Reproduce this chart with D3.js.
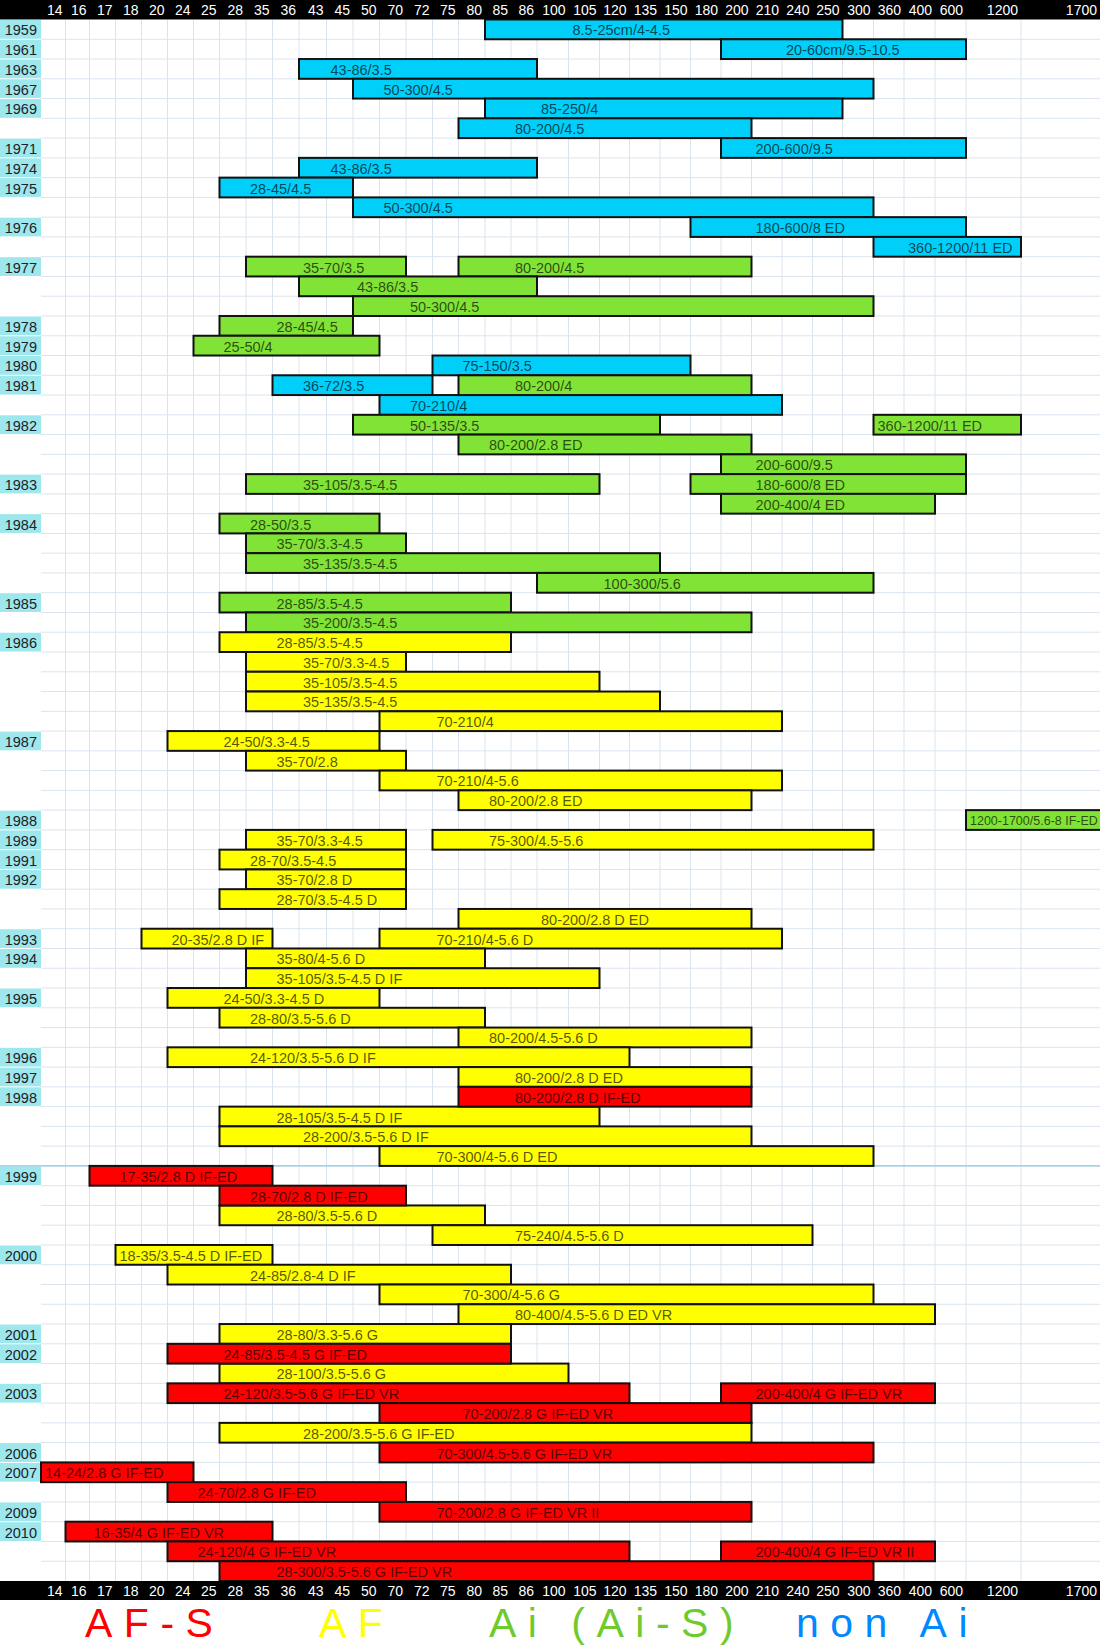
<!DOCTYPE html>
<html>
<head>
<meta charset="utf-8">
<script src="https://cdn.jsdelivr.net/npm/d3@7"></script>
<style>
  html, body { margin: 0; padding: 0; background: #ffffff; }
  svg { display: block; }
</style>
</head>
<body>
<svg id="chart" width="1100" height="1647"></svg>
<script>
// ---------------- DATA ----------------
// focal-length columns (tick labels)
const focalColumns = ["14","16","17","18","20","24","25","28","35","36","43","45","50","70","72","75","80","85","86",
  "100","105","120","135","150","180","200","210","240","250","300","360","400","600","1200","1700"];

// one entry per spreadsheet row ("" = continuation row)
const rowYears = ["1959","1961","1963","1967","1969","","1971","1974","1975","","1976","","1977","","","1978","1979","1980","1981","",
  "1982","","","1983","","1984","","","","1985","","1986","","","","","1987","","","","1988","1989","1991","1992","","",
  "1993","1994","","1995","","","1996","1997","1998","","","","1999","","","","2000","","","","2001","2002","","2003","","",
  "2006","2007","","2009","2010","",""];

// lens bars: [row, from column, to column, label, label column]
const nonAiLenses = [
  [0,"85","250","8.5-25cm/4-4.5","105"],
  [1,"200","600","20-60cm/9.5-10.5","240"],
  [2,"43","86","43-86/3.5","45"],
  [3,"50","300","50-300/4.5","70"],
  [4,"85","250","85-250/4","100"],
  [5,"80","200","80-200/4.5","86"],
  [6,"200","600","200-600/9.5","210"],
  [7,"43","86","43-86/3.5","45"],
  [8,"28","45","28-45/4.5","35"],
  [9,"50","300","50-300/4.5","70"],
  [10,"180","600","180-600/8 ED","210"],
  [11,"360","1200","360-1200/11 ED","400"],
  [17,"75","150","75-150/3.5","80"],
  [18,"36","72","36-72/3.5","43"],
  [19,"70","210","70-210/4","72"]
];
const aiLenses = [
  [12,"35","70","35-70/3.5","43"],
  [12,"80","200","80-200/4.5","86"],
  [13,"43","86","43-86/3.5","50"],
  [14,"50","300","50-300/4.5","72"],
  [15,"28","45","28-45/4.5","36"],
  [16,"25","50","25-50/4","28"],
  [18,"80","200","80-200/4","86"],
  [20,"50","135","50-135/3.5","72"],
  [20,"360","1200","360-1200/11 ED","360"],
  [21,"80","200","80-200/2.8 ED","85"],
  [22,"200","600","200-600/9.5","210"],
  [23,"35","105","35-105/3.5-4.5","43"],
  [23,"180","600","180-600/8 ED","210"],
  [24,"200","400","200-400/4 ED","210"],
  [25,"28","50","28-50/3.5","35"],
  [26,"35","70","35-70/3.3-4.5","36"],
  [27,"35","135","35-135/3.5-4.5","43"],
  [28,"100","300","100-300/5.6","120"],
  [29,"28","85","28-85/3.5-4.5","36"],
  [30,"35","200","35-200/3.5-4.5","43"],
  [40,"1200","1700","1200-1700/5.6-8 IF-ED","1200"]
];
const afLenses = [
  [31,"28","85","28-85/3.5-4.5","36"],
  [32,"35","70","35-70/3.3-4.5","43"],
  [33,"35","105","35-105/3.5-4.5","43"],
  [34,"35","135","35-135/3.5-4.5","43"],
  [35,"70","210","70-210/4","75"],
  [36,"24","50","24-50/3.3-4.5","28"],
  [37,"35","70","35-70/2.8","36"],
  [38,"70","210","70-210/4-5.6","75"],
  [39,"80","200","80-200/2.8 ED","85"],
  [41,"35","70","35-70/3.3-4.5","36"],
  [41,"75","300","75-300/4.5-5.6","85"],
  [42,"28","70","28-70/3.5-4.5","35"],
  [43,"35","70","35-70/2.8 D","36"],
  [44,"28","70","28-70/3.5-4.5 D","36"],
  [45,"80","200","80-200/2.8 D ED","100"],
  [46,"20","35","20-35/2.8 D IF","24"],
  [46,"70","210","70-210/4-5.6 D","75"],
  [47,"35","80","35-80/4-5.6 D","36"],
  [48,"35","105","35-105/3.5-4.5 D IF","36"],
  [49,"24","50","24-50/3.3-4.5 D","28"],
  [50,"28","80","28-80/3.5-5.6 D","35"],
  [51,"80","200","80-200/4.5-5.6 D","85"],
  [52,"24","120","24-120/3.5-5.6 D IF","35"],
  [53,"80","200","80-200/2.8 D ED","86"],
  [55,"28","105","28-105/3.5-4.5 D IF","36"],
  [56,"28","200","28-200/3.5-5.6 D IF","43"],
  [57,"70","300","70-300/4-5.6 D ED","75"],
  [60,"28","80","28-80/3.5-5.6 D","36"],
  [61,"75","240","75-240/4.5-5.6 D","86"],
  [62,"18","35","18-35/3.5-4.5 D IF-ED","18"],
  [63,"24","85","24-85/2.8-4 D IF","35"],
  [64,"70","300","70-300/4-5.6 G","80"],
  [65,"80","400","80-400/4.5-5.6 D ED VR","86"],
  [66,"28","85","28-80/3.3-5.6 G","36"],
  [68,"28","100","28-100/3.5-5.6 G","36"],
  [71,"28","200","28-200/3.5-5.6 G IF-ED","43"]
];
const afsLenses = [
  [54,"80","200","80-200/2.8 D IF-ED","86"],
  [58,"17","35","17-35/2.8 D IF-ED","18"],
  [59,"28","70","28-70/2.8 D IF-ED","35"],
  [67,"24","85","24-85/3.5-4.5 G IF-ED","28"],
  [69,"24","120","24-120/3.5-5.6 G IF-ED VR","28"],
  [69,"200","400","200-400/4 G IF-ED VR","210"],
  [70,"70","200","70-200/2.8 G IF-ED VR","80"],
  [72,"70","300","70-300/4.5-5.6 G IF-ED VR","75"],
  [73,"14","24","14-24/2.8 G IF-ED","14"],
  [74,"24","70","24-70/2.8 G IF-ED","25"],
  [75,"70","200","70-200/2.8 G IF-ED VR II","75"],
  [76,"16","35","16-35/4 G IF-ED VR","17"],
  [77,"24","120","24-120/4 G IF-ED VR","25"],
  [77,"200","400","200-400/4 G IF-ED VR II","210"],
  [78,"28","300","28-300/3.5-5.6 G IF-ED VR","36"]
];

const legendLabels = ["AF-S","AF","Ai (Ai-S)","non Ai"];
const separatorRow = 58; // first AF-S generation row (1999)

// ---------------- LAYOUT / STYLE ----------------
const W = 1100, H = 1647;
const headerH = 19.5, plotBottom = 1581, bandBottom = 1600;
const colBounds = [41, 65.5, 89.5, 115.5, 141.5, 167.5, 193.5, 219.5, 246, 272.5, 299, 326.5, 353, 379.5, 406, 432.5,
  458.5, 485, 511, 537, 568.5, 599.5, 629.5, 660, 690.5, 721, 751.5, 782, 812.5, 842.5, 873.5, 904, 935, 966, 1021, 1101];
const mountColors = {nonAi: "#00CFFA", ai: "#80E335", af: "#FFFF00", afs: "#FF0000"};
const legendColors = ["#FF0000", "#FFFF00", "#6FCB2C", "#0088FF"];
const legendX = [85, 319, 489, 796];
const font = "'Liberation Sans', Arial, sans-serif";

const svg = d3.select("#chart");
const colIndex = new Map(focalColumns.map((c, i) => [c, i]));
const x = d3.scaleLinear().domain(d3.range(colBounds.length)).range(colBounds);
const xStart = c => x(colIndex.get(c));
const xEnd = c => x(colIndex.get(c) + 1);
const y = d3.scaleBand().domain(d3.range(rowYears.length)).range([headerH, plotBottom]);
const bw = y.bandwidth();

svg.append("rect").attr("width", W).attr("height", H).attr("fill", "#ffffff");

// year cells
const yearRows = rowYears.map((t, i) => ({t, i})).filter(d => d.t !== "");
svg.append("g").selectAll("rect").data(yearRows).join("rect")
  .attr("x", 0).attr("y", d => y(d.i) + 0.5).attr("width", colBounds[0]).attr("height", bw - 1)
  .attr("fill", "#9DE7ED");
svg.append("g").selectAll("text").data(yearRows).join("text")
  .attr("x", colBounds[0] - 4).attr("y", d => y(d.i) + bw / 2 + 1)
  .attr("text-anchor", "end").attr("dominant-baseline", "central")
  .attr("font-family", font).attr("font-size", 14.5).attr("fill", "#1d2226")
  .text(d => d.t);

// grid
const grid = svg.append("g").attr("stroke", "#DAE4EF").attr("stroke-width", 1);
grid.selectAll("line.v").data(d3.range(1, colBounds.length)).join("line")
  .attr("x1", i => x(i)).attr("x2", i => x(i)).attr("y1", headerH).attr("y2", plotBottom);
grid.selectAll("line.h").data(d3.range(1, rowYears.length)).join("line")
  .attr("x1", colBounds[0]).attr("x2", W).attr("y1", i => y(i)).attr("y2", i => y(i));

// separator before 1999
svg.append("line").attr("x1", 0).attr("x2", W)
  .attr("y1", y(separatorRow)).attr("y2", y(separatorRow))
  .attr("stroke", "#8EC9E0").attr("stroke-width", 1.2);

// bars
const series = [
  {key: "nonAi", data: nonAiLenses},
  {key: "ai", data: aiLenses},
  {key: "af", data: afLenses},
  {key: "afs", data: afsLenses}
];
series.forEach(s => {
  const g = svg.append("g").attr("class", "series-" + s.key);
  g.selectAll("rect").data(s.data).join("rect")
    .attr("x", d => xStart(d[1]))
    .attr("y", d => y(d[0]))
    .attr("width", d => xEnd(d[2]) - xStart(d[1]))
    .attr("height", bw)
    .attr("fill", mountColors[s.key])
    .attr("stroke", "#111").attr("stroke-width", 2);
});
series.forEach(s => {
  svg.append("g").selectAll("text").data(s.data).join("text")
    .attr("x", d => xStart(d[4]) + 4)
    .attr("y", d => y(d[0]) + bw / 2 + 1)
    .attr("dominant-baseline", "central")
    .attr("font-family", font)
    .attr("font-size", d => d[3].length > 20 && d[2] === "1700" ? 12.5 : 14.5)
    .attr("fill", "#000").attr("fill-opacity", 0.68)
    .text(d => d[3]);
});

// top and bottom axis bands
function axisBand(y0, y1) {
  const g = svg.append("g");
  g.append("rect").attr("x", 0).attr("y", y0).attr("width", W).attr("height", y1 - y0).attr("fill", "#000");
  g.selectAll("text").data(focalColumns).join("text")
    .attr("x", c => Math.min(xEnd(c), W) - 3)
    .attr("y", (y0 + y1) / 2 + 0.5)
    .attr("text-anchor", "end").attr("dominant-baseline", "central")
    .attr("font-family", font).attr("font-size", 14).attr("fill", "#fff")
    .text(c => c);
}
axisBand(0, headerH);
axisBand(plotBottom, bandBottom);

// legend
svg.append("g").selectAll("text").data(legendLabels).join("text")
  .attr("x", (d, i) => legendX[i]).attr("y", 1637)
  .attr("font-family", font)
  .attr("font-size", 41).attr("letter-spacing", 11.5)
  .attr("fill", (d, i) => legendColors[i])
  .text(d => d);
</script>
</body>
</html>
